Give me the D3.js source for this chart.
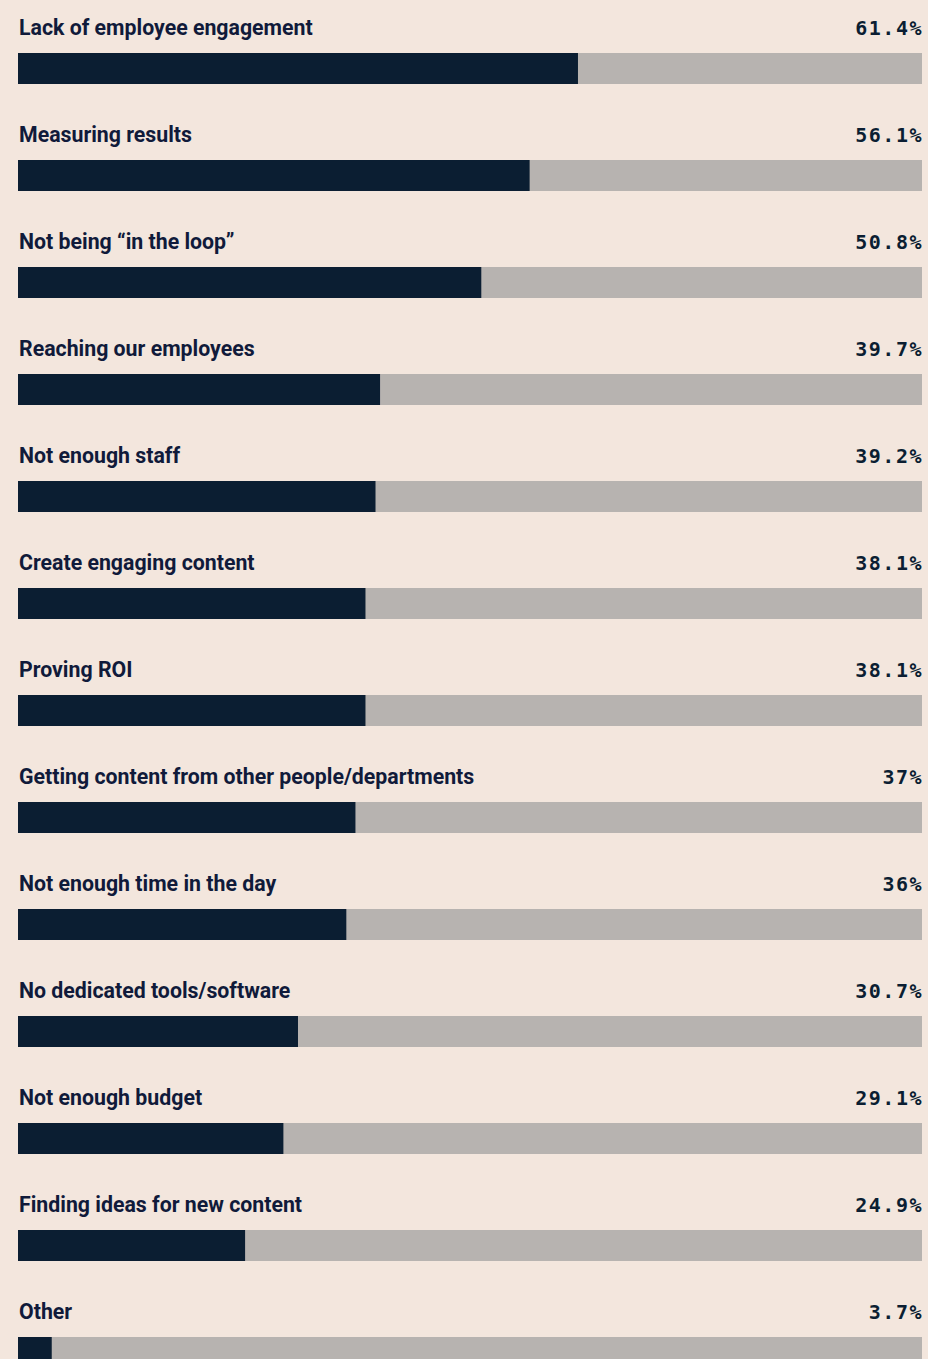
<!DOCTYPE html>
<html><head><meta charset="utf-8">
<script src="https://cdn.jsdelivr.net/npm/d3@7"></script>
<style>
html,body{margin:0;padding:0;background:#f3e6dd;}
svg{display:block;}
</style></head><body>
<script>
const categories = ["Lack of employee engagement","Measuring results","Not being “in the loop”","Reaching our employees","Not enough staff","Create engaging content","Proving ROI","Getting content from other people/departments","Not enough time in the day","No dedicated tools/software","Not enough budget","Finding ideas for new content","Other"];
const values = [61.4,56.1,50.8,39.7,39.2,38.1,38.1,37,36,30.7,29.1,24.9,3.7];
const valueLabels = ["61.4%","56.1%","50.8%","39.7%","39.2%","38.1%","38.1%","37%","36%","30.7%","29.1%","24.9%","3.7%"];

const W = 928, H = 1359;
const left = 18, right = 922, barH = 31;
const svg = d3.select("body").append("svg").attr("width", W).attr("height", H);
svg.append("rect").attr("width", W).attr("height", H).attr("fill", "#f3e6dd");

const x = d3.scaleLinear().domain([0, 100]).range([left, left + 912]);
const y = d3.scaleBand().domain(categories).range([53, 53 + 107 * categories.length]).paddingInner(0).paddingOuter(0);

const g = svg.selectAll("g.row").data(categories.map((c, i) => ({c, v: values[i], l: valueLabels[i]})))
  .enter().append("g").attr("class", "row");

g.append("rect").attr("x", left).attr("y", d => y(d.c)).attr("width", right - left).attr("height", barH).attr("fill", "#b7b3b0");
g.append("rect").attr("x", left).attr("y", d => y(d.c)).attr("width", d => x(d.v) - left).attr("height", barH).attr("fill", "#0b1e32");
g.append("text").attr("x", left + 1).attr("y", d => y(d.c) - 18).text(d => d.c)
  .attr("font-family", "Roboto, sans-serif").attr("font-weight", 700).attr("font-size", 21.3).attr("fill", "#101a3a");
g.append("text").attr("x", right + 1).attr("y", d => y(d.c) - 18).attr("text-anchor", "end").text(d => d.l)
  .attr("font-family", "'DejaVu Sans Mono', monospace").attr("font-weight", 700).attr("font-size", 20)
  .attr("letter-spacing", 1.5).attr("fill", "#0b1e32");
</script>
</body></html>
